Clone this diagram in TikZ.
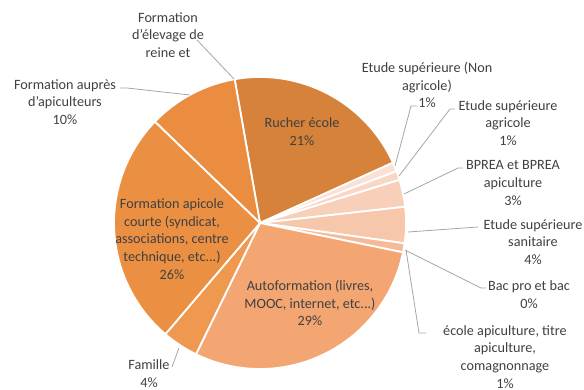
\documentclass[tikz,border=0pt]{standalone}
\usepackage{fontspec}
\setmainfont{Carlito}
\usetikzlibrary{calc}
\definecolor{cRucher}{HTML}{D6823A}
\definecolor{cNon}{HTML}{FBE1D3}
\definecolor{cAgri}{HTML}{F9D7C5}
\definecolor{cBprea}{HTML}{F8D0BA}
\definecolor{cSanit}{HTML}{F7C7AC}
\definecolor{cBac}{HTML}{F6C0A0}
\definecolor{cEcole}{HTML}{F5BB99}
\definecolor{cAuto}{HTML}{F4A672}
\definecolor{cFamille}{HTML}{EE9850}
\definecolor{cCourte}{HTML}{EB9043}
\definecolor{cAupres}{HTML}{EA8D40}
\definecolor{txt}{HTML}{404040}
\definecolor{lead}{HTML}{A6A6A6}
\begin{document}
\begin{tikzpicture}[x=1pt,y=1pt,
  slice/.style={draw=white, line width=1.8pt, line join=round},
  lbl/.style={align=center, text=txt, font=\fontsize{14.2}{17.8}\selectfont, inner sep=0pt},
  leader/.style={draw=lead, line width=0.8pt}]
\useasboundingbox (0,0) rectangle (584,389);
\coordinate (c) at (260,166);
\foreach \a/\b/\col in {100/24.4/cRucher, 24.4/20.8/cNon, 20.8/17.2/cAgri, 17.2/6.4/cBprea, 6.4/-8/cSanit, -8/-11.6/cEcole, -11.6/-116/cAuto, -116/-130.4/cFamille, -130.4/-224/cCourte, -224/-260/cAupres}
  \filldraw[fill=\col, slice] (c) -- ++(\a:146) arc[start angle=\a, end angle=\b, radius=146pt] -- cycle;
% labels
\node[lbl] (elev) at (168,354) {Formation\\d'élevage de\\reine et};
\node[lbl] (aupres) at (65,287) {Formation auprès\\d'apiculteurs\\10\%};
\node[lbl] (rucher) at (302,257) {Rucher école\\21\%};
\node[lbl] (courte) at (172,150) {Formation apicole\\courte (syndicat,\\associations, centre\\technique, etc...)\\26\%};
\node[lbl] (auto) at (310,86) {Autoformation (livres,\\MOOC, internet, etc...)\\29\%};
\node[lbl] (famille) at (149,15) {Famille\\4\%};
\node[lbl] (nonagri) at (427,304) {Etude supérieure (Non\\agricole)\\1\%};
\node[lbl] (agri) at (508,266) {Etude supérieure\\agricole\\1\%};
\node[lbl] (bprea) at (513,206) {BPREA et BPREA\\apiculture\\3\%};
\node[lbl] (sanit) at (533,147) {Etude supérieure\\sanitaire\\4\%};
\node[lbl] (bacpro) at (529,94) {Bac pro et bac\\0\%};
\node[lbl] (ecole) at (505,32) {école apiculture, titre\\apiculture,\\comagnonnage\\1\%};
% leader coordinates
\coordinate (elevS) at (197,349);  \coordinate (elevE) at (234,310);
\coordinate (aupS) at (120,301);   \coordinate (aupE) at (190,294);
\coordinate (famS) at (172,22);    \coordinate (famE) at (179,41);
\coordinate (nonS) at (417,283);   \coordinate (nonE) at (395,223);
\coordinate (agrS) at (455,280);   \coordinate (agrE) at (399,213);
\coordinate (bprS) at (463,221);   \coordinate (bprE) at (404,195);
\coordinate (sanS) at (478,162);   \coordinate (sanE) at (408,157);
\coordinate (bacS) at (486,101);   \coordinate (bacE) at (405,139);
\coordinate (ecoS) at (426,56);    \coordinate (ecoE) at (406,139);
\draw[leader] (elevS) -- (elevE);
\draw[leader] (aupS) -- ++(7,0) -- (aupE);
\draw[leader] (famS) -- (famE);
\draw[leader] (nonS) -- ++(-6,0) -- (nonE);
\draw[leader] (agrS) -- ++(-5,0) -- (agrE);
\draw[leader] (bprS) -- ++(-5,0) -- (bprE);
\draw[leader] (sanS) -- (sanE);
\draw[leader] (bacS) -- ++(-5,0) -- (bacE);
\draw[leader] (ecoS) -- ++(-7,0) -- (ecoE);
\end{tikzpicture}
\end{document}
